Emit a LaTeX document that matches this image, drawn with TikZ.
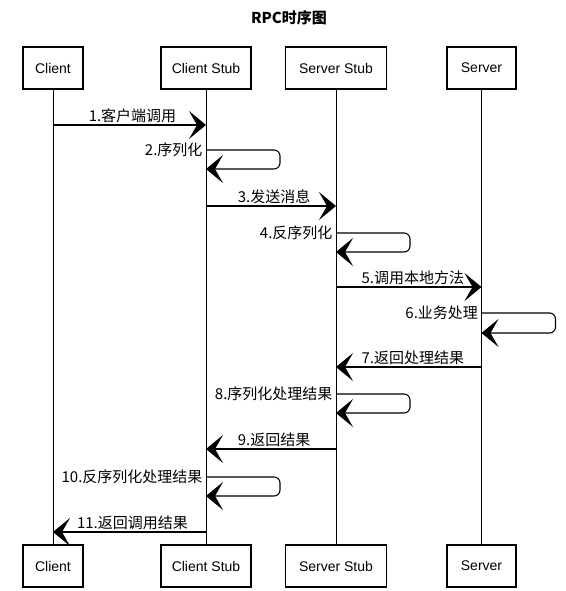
\documentclass[tikz,border=0pt]{standalone}
\usepackage{fontspec}
\setmainfont{Liberation Sans}
\newfontfamily\cjk{Noto Sans CJK SC}
\usetikzlibrary{arrows.meta}

\begin{document}
\begin{tikzpicture}[x=1pt,y=-1pt,
   box/.style={draw, line width=1.2pt, minimum height=42pt, inner sep=0pt, font=\fontsize{14}{17}\selectfont},
   life/.style={line width=0.8pt},
   msg/.style={line width=1.1pt, rounded corners=6pt, -{Stealth[length=17pt,width=28pt,inset=8pt]}},
   lbl/.style={font=\cjk\fontsize{15}{18}\selectfont, inner sep=1pt}]
   \useasboundingbox (0,0) rectangle (565,591);
   \node[lbl, font=\cjk\bfseries\fontsize{15}{18}\selectfont] (title) at (289,18) {RPC时序图};
   \node[box, minimum width=60pt] (client) at (53,68) {Client};
   \node[box, minimum width=90pt] (cstub) at (206,68) {Client Stub};
   \node[box, minimum width=101pt] (sstub) at (336,68) {Server Stub};
   \node[box, minimum width=69pt] (server) at (481.5,68) {Server};
   \node[box, minimum width=60pt] (clientb) at (53,566) {Client};
   \node[box, minimum width=90pt] (cstubb) at (206,566) {Client Stub};
   \node[box, minimum width=101pt] (sstubb) at (336,566) {Server Stub};
   \node[box, minimum width=69pt] (serverb) at (481.5,566) {Server};
   \draw[life] (client) -- (clientb);
   \draw[life] (cstub) -- (cstubb);
   \draw[life] (sstub) -- (sstubb);
   \draw[life] (server) -- (serverb);
   \coordinate (m1) at (0,125);
   \coordinate (m2) at (0,150);
   \coordinate (m3) at (0,206);
   \coordinate (m4) at (0,233);
   \coordinate (m5) at (0,287);
   \coordinate (m6) at (0,313);
   \coordinate (m7) at (0,367);
   \coordinate (m8) at (0,394);
   \coordinate (m9) at (0,449);
   \coordinate (m10) at (0,477);
   \coordinate (m11) at (0,532);
   \draw[msg] (client |- m1) -- node[lbl, above=1pt, xshift=3pt] {1.客户端调用} (cstub |- m1);
   \draw[msg] (cstub |- m2) node[lbl, left=2pt] {2.序列化} -- ++(74,0) -- ++(0,19) -- ++(-74,0);
   \draw[msg] (cstub |- m3) -- node[lbl, above=1pt, xshift=3pt] {3.发送消息} (sstub |- m3);
   \draw[msg] (sstub |- m4) node[lbl, left=2pt] {4.反序列化} -- ++(74,0) -- ++(0,19) -- ++(-74,0);
   \draw[msg] (sstub |- m5) -- node[lbl, above=1pt, xshift=4pt] {5.调用本地方法} (server |- m5);
   \draw[msg] (server |- m6) node[lbl, left=2pt] {6.业务处理} -- ++(74,0) -- ++(0,20) -- ++(-74,0);
   \draw[msg] (server |- m7) -- node[lbl, above=1pt, xshift=4pt] {7.返回处理结果} (sstub |- m7);
   \draw[msg] (sstub |- m8) node[lbl, left=2pt] {8.序列化处理结果} -- ++(74,0) -- ++(0,19) -- ++(-74,0);
   \draw[msg] (sstub |- m9) -- node[lbl, above=1pt, xshift=3pt] {9.返回结果} (cstub |- m9);
   \draw[msg] (cstub |- m10) node[lbl, left=2pt] {10.反序列化处理结果} -- ++(74,0) -- ++(0,19) -- ++(-74,0);
   \draw[msg] (cstub |- m11) -- node[lbl, above=1pt, xshift=3pt] {11.返回调用结果} (client |- m11);
\end{tikzpicture}
\end{document}
